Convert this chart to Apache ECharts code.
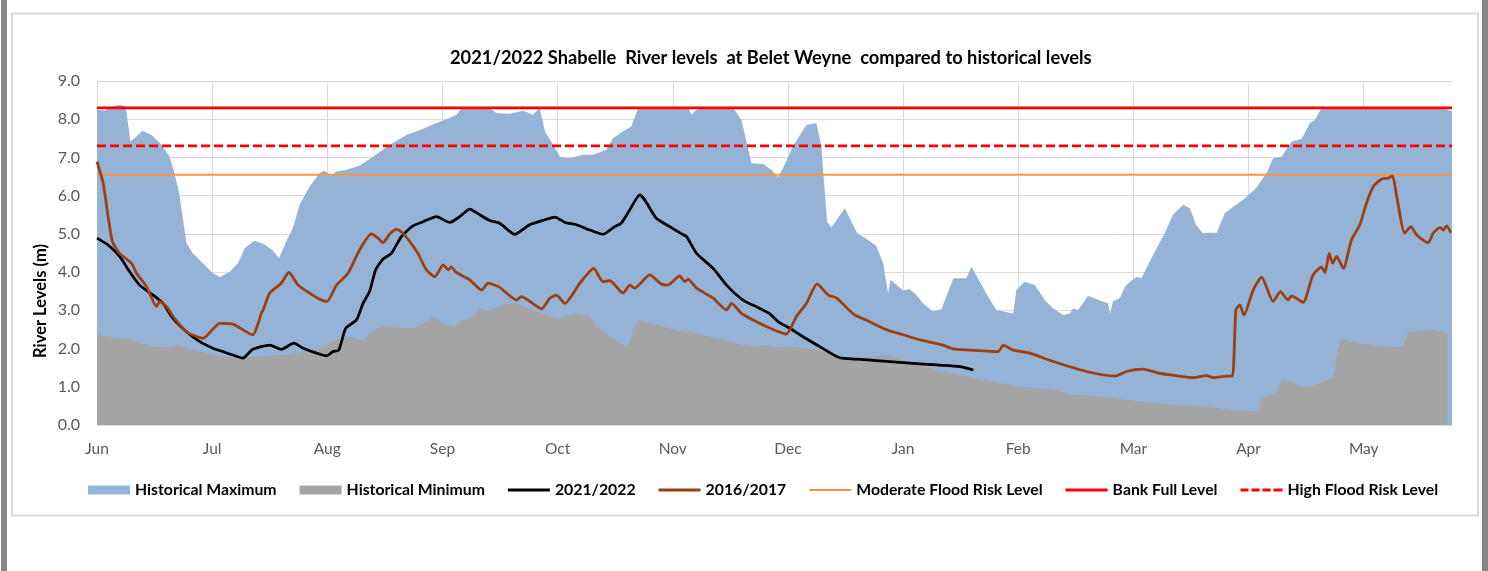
<!DOCTYPE html>
<html>
<head>
<meta charset="utf-8">
<script src="https://cdn.jsdelivr.net/npm/echarts@6/dist/echarts.min.js"></script>
<style>
html,body{margin:0;padding:0;background:#fff;}
#chart{width:1488px;height:571px;}
</style>
</head>
<body>
<div id="chart"></div>
<script>
// ---- data (x = day index from 1 June, y = river level in m) ----
var monthLabels = ['Jun','Jul','Aug','Sep','Oct','Nov','Dec','Jan','Feb','Mar','Apr','May'];
var lastDay = 353;

var histMax = [[0,8.25],[2,8.22],[4,8.33],[6,8.38],[7.5,8.33],[8.7,7.42],[9.8,7.5],[11.8,7.7],[14.2,7.59],[16.8,7.33],[18.9,7.02],[20.2,6.59],[21.4,6.07],[23.3,4.76],[25,4.49],[27.6,4.23],[30.2,3.97],[32,3.87],[34.6,4.01],[36.7,4.23],[38.5,4.63],[41,4.82],[43.3,4.74],[45.7,4.58],[47.4,4.36],[49.3,4.80],[51,5.15],[52.8,5.76],[55.4,6.24],[58,6.59],[59.2,6.65],[61,6.53],[62.4,6.63],[65,6.68],[68.4,6.78],[71.9,7.02],[76.3,7.33],[80.6,7.59],[85,7.75],[88.4,7.9],[91.9,8.03],[93.7,8.12],[95,8.3],[102.3,8.3],[104,8.16],[107.5,8.14],[111,8.22],[113.6,8.12],[115.3,8.3],[116.7,7.68],[118.8,7.33],[120.6,7.02],[123.1,6.98],[126.6,7.07],[129.2,7.07],[132.7,7.2],[134.4,7.5],[137,7.68],[139.2,7.81],[141,8.3],[154,8.3],[154.9,8.12],[156.2,8.25],[158,8.3],[165.7,8.3],[167.9,7.98],[170.5,6.85],[173.5,6.83],[175.7,6.68],[177.4,6.48],[178.7,6.72],[181.3,7.29],[184.8,7.85],[187.4,7.9],[188.7,7.29],[190.2,5.32],[191.3,5.17],[194.8,5.67],[198,5.02],[200.9,4.84],[203,4.69],[204.8,4.23],[206.1,3.45],[206.7,3.80],[208.3,3.66],[210,3.52],[211.7,3.55],[213.5,3.40],[215.2,3.18],[217.8,2.97],[220,3.03],[223.1,3.84],[226.5,3.84],[227.8,4.14],[230,3.75],[232.1,3.36],[234.3,3.01],[238.7,2.92],[239.5,3.53],[241.7,3.75],[244.3,3.66],[246.9,3.27],[249.1,3.05],[251.7,2.88],[253.4,2.91],[254.3,3.05],[255.6,3.01],[258.2,3.38],[262.1,3.23],[263.4,3.18],[263.9,2.92],[264.7,3.23],[266.5,3.32],[267.8,3.62],[269.1,3.75],[270.8,3.87],[272.1,3.84],[275.1,4.45],[278.2,5.02],[280.3,5.50],[283,5.76],[284.7,5.67],[286.3,5.24],[288,5.02],[290.4,5.03],[291.7,5.02],[293.8,5.54],[296,5.71],[298.6,5.89],[302,6.2],[304.7,6.59],[306.4,6.98],[308.6,7.02],[311.2,7.42],[313.8,7.48],[316,7.9],[317.3,7.98],[319,8.3],[350.7,8.3],[352.4,8.22],[353,8.22]];

var histMin = [[0,2.38],[3.3,2.30],[8.5,2.23],[12,2.12],[15.5,2.05],[18.9,2.03],[21.1,2.09],[24.2,1.98],[28.5,1.89],[32.9,1.79],[38,1.76],[42,1.8],[50,1.85],[57,1.95],[60,2.1],[63,2.25],[66,2.31],[69.4,2.21],[71.5,2.44],[74.5,2.59],[78,2.56],[82.3,2.53],[85,2.66],[87.5,2.84],[90.2,2.65],[93.2,2.57],[95,2.75],[97.6,2.79],[99.7,3.05],[101.9,2.97],[105.4,3.14],[108.8,3.2],[112.7,3.05],[116.2,2.91],[120.1,2.77],[121.4,2.84],[124.9,2.91],[128.4,2.85],[130.1,2.57],[132.7,2.40],[136.2,2.14],[138.4,2.05],[139.7,2.49],[141,2.75],[145.8,2.62],[151,2.47],[156.2,2.40],[163.1,2.23],[168.3,2.09],[171.4,2.05],[173.5,2.09],[177,2.03],[180.5,2.05],[188.3,1.96],[192.7,1.79],[200,1.76],[206,1.84],[210,1.7],[215,1.55],[220,1.4],[225,1.3],[230,1.2],[235,1.1],[240.5,1.0],[249,0.92],[253.4,0.81],[262,0.74],[269,0.65],[272.5,0.61],[281,0.52],[290,0.48],[295,0.39],[302.5,0.35],[303.6,0.74],[307.3,0.83],[308.6,1.18],[312.1,1.09],[313.4,1.0],[316.8,1.02],[318.6,1.09],[320.7,1.18],[322,1.26],[323.9,2.27],[326.5,2.18],[333.5,2.07],[340.4,2.05],[341.3,2.42],[347.4,2.49],[351.8,2.40]];

var season2122 = [[0,4.89],[2.9,4.71],[5.9,4.41],[8.5,4.01],[11.1,3.66],[14.6,3.40],[17.2,3.18],[19.8,2.79],[23.3,2.44],[26.8,2.18],[30.2,2.01],[32.8,1.92],[35.4,1.83],[38,1.75],[40.6,1.98],[45,2.09],[48,1.98],[51.3,2.14],[53.7,2.01],[57.2,1.88],[59.8,1.81],[61.5,1.92],[63,1.96],[64.8,2.53],[67.6,2.75],[69.3,3.18],[71,3.49],[72.6,4.06],[74.5,4.34],[76.7,4.49],[79.3,4.93],[82.3,5.21],[85,5.32],[88.4,5.45],[91.9,5.30],[94.5,5.45],[97.1,5.65],[99.7,5.50],[102.3,5.35],[104.9,5.28],[108.8,4.99],[112.7,5.24],[116.7,5.37],[119.3,5.44],[121.9,5.30],[124.9,5.24],[128.4,5.10],[131.8,4.99],[134.9,5.19],[136.6,5.28],[138.8,5.63],[141.4,6.02],[142.7,5.89],[145.7,5.41],[149.2,5.19],[152.3,5.0],[153.6,4.93],[156.2,4.49],[160.5,4.10],[164,3.66],[168.3,3.27],[172.7,3.05],[175.3,2.91],[177.5,2.70],[180.5,2.53],[183.9,2.31],[188.3,2.05],[192.7,1.79],[194,1.75],[201.3,1.70],[210,1.63],[218.7,1.57],[224.8,1.53],[228.3,1.44]];

var season1617 = [[0,6.89],[1.6,6.33],[2.9,5.45],[4,4.80],[5.9,4.49],[9,4.23],[10.3,3.97],[12.9,3.62],[15.5,3.10],[16.3,3.23],[18.1,3.10],[19.8,2.84],[23.3,2.44],[27.6,2.27],[32,2.66],[35.4,2.64],[40.6,2.36],[42,2.66],[42.8,2.92],[43.3,3.01],[45,3.45],[48,3.71],[50,3.99],[52.4,3.66],[55.4,3.45],[58,3.29],[59.9,3.23],[62.4,3.66],[65.4,3.97],[68.4,4.58],[71.5,5.0],[73.2,4.89],[74.5,4.77],[76.3,5.0],[78,5.12],[79.7,5.02],[83.6,4.49],[85.8,4.06],[88,3.88],[90.2,4.19],[91.5,4.06],[92.3,4.14],[93.6,3.99],[97.1,3.80],[100.2,3.53],[101.9,3.71],[104.9,3.60],[109.3,3.27],[110.6,3.36],[115.8,3.04],[118,3.32],[119.7,3.40],[121.9,3.18],[125.8,3.71],[129.4,4.10],[131.8,3.75],[133.6,3.78],[137,3.45],[138.8,3.66],[140.1,3.58],[144,3.93],[147,3.69],[148.7,3.66],[151.8,3.90],[153.1,3.75],[154,3.81],[156.2,3.58],[160.5,3.32],[164,3.01],[165.3,3.18],[167.9,2.92],[171.8,2.70],[176.1,2.50],[179.6,2.38],[182.2,2.84],[184.8,3.18],[187.6,3.69],[190.5,3.40],[192.7,3.32],[197,2.91],[201.3,2.70],[205.7,2.49],[210,2.36],[214.3,2.23],[220.4,2.09],[223,1.99],[227.4,1.96],[234.8,1.92],[236.1,2.09],[238.7,1.96],[243,1.88],[249.1,1.66],[257.8,1.40],[265.2,1.28],[268.2,1.40],[272.5,1.46],[276.9,1.35],[281.2,1.29],[285.6,1.24],[289,1.29],[290.8,1.24],[294.3,1.28],[295.8,1.28],[296.7,3.01],[297.7,3.14],[298.8,2.88],[301.2,3.53],[303.4,3.87],[306.4,3.23],[308.3,3.49],[310.3,3.27],[311.2,3.38],[314.2,3.21],[316.8,3.93],[319,4.13],[319.9,3.99],[321,4.49],[321.9,4.23],[322.9,4.41],[324.7,4.10],[326.8,4.84],[329,5.24],[330.7,5.80],[332.5,6.24],[334.6,6.43],[336.4,6.46],[337.5,6.52],[338.6,5.98],[340.7,5.02],[342.3,5.19],[343.8,4.97],[346.8,4.77],[348.1,5.02],[349.9,5.17],[350.7,5.10],[351.6,5.21],[352.7,5.03]];

var moderateLevel = 6.55;
var bankFullLevel = 8.3;
var highFloodLevel = 7.3;

// ---- chart ----
function flat(v){ return [[0, v], [lastDay, v]]; }
var FONT = 'Lato, "Liberation Sans", sans-serif';
var LINE_ICON = 'path://M0,0H42V3H0Z';
var THIN_ICON = 'path://M0,0H42V2H0Z';
var DASH_ICON = 'path://M0,0h8v3h-8z M11,0h8v3h-8z M22,0h8v3h-8z M33,0h9v3h-9z';
var chart = echarts.init(document.getElementById('chart'), null, {renderer:'canvas'});
chart.setOption({
  animation: false,
  backgroundColor: '#ffffff',
  title: {
    text: '2021/2022 Shabelle  River levels  at Belet Weyne  compared to historical levels',
    left: 445, top: 44,
    textStyle: {fontFamily: FONT, fontWeight: 'bold', fontSize: 18.3, color: '#000'}
  },
  grid: {left: 97, right: 36, top: 81, bottom: 146, containLabel: false},
  legend: {
    left: 83, top: 477, itemWidth: 42, itemHeight: 9, itemGap: 23, symbolKeepAspect: true,
    textStyle: {fontFamily: FONT, fontWeight: 'bold', fontSize: 15.8, color: '#000'},
    data: [
      {name: 'Historical Maximum', icon: 'rect'},
      {name: 'Historical Minimum', icon: 'rect'},
      {name: '2021/2022', icon: LINE_ICON},
      {name: '2016/2017', icon: LINE_ICON},
      {name: 'Moderate Flood Risk Level', icon: THIN_ICON},
      {name: 'Bank Full Level', icon: LINE_ICON},
      {name: 'High Flood Risk Level', icon: DASH_ICON}
    ]
  },
  xAxis: {
    type: 'value', min: 0, max: lastDay, interval: 30,
    axisLine: {show: true, lineStyle: {color: '#D9D9D9', width: 1}},
    axisTick: {show: false},
    splitLine: {show: true, showMinLine: true, showMaxLine: false, lineStyle: {color: '#D9D9D9', width: 1}},
    axisLabel: {
      margin: 16, showMaxLabel: false, color: '#595959', fontFamily: FONT, fontSize: 15.5,
      formatter: function(v){ return (v % 30 === 0 && monthLabels[v/30]) ? monthLabels[v/30] : ''; }
    }
  },
  yAxis: {
    type: 'value', min: 0, max: 9, interval: 1,
    axisLine: {show: true, lineStyle: {color: '#D9D9D9'}},
    axisTick: {show: false},
    splitLine: {show: true, lineStyle: {color: '#D9D9D9', width: 1}},
    axisLabel: {margin: 17, color: '#595959', fontFamily: FONT, fontSize: 16,
      formatter: function(v){ return v.toFixed(1); }}
  },
  graphic: [
    {type: 'rect', shape: {x: 1, y: 0, width: 6, height: 571}, style: {fill: '#878787'}, silent: true},
    {type: 'rect', shape: {x: 1482, y: 0, width: 6, height: 571}, style: {fill: '#878787'}, silent: true},
    {type: 'rect', shape: {x: 12, y: 13.5, width: 1466, height: 502}, style: {fill: null, stroke: '#D9D9D9', lineWidth: 2}, silent: true},
    {type: 'text', x: 41, y: 301, rotation: Math.PI/2, silent: true,
      style: {text: 'River Levels (m)', fontFamily: FONT, fontWeight: 'bold', fontSize: 16.5, fill: '#000', align: 'center', verticalAlign: 'middle'}}
  ],
  series: [
    {name: 'Historical Maximum', type: 'line', data: histMax, symbol: 'none', z: 1,
      itemStyle: {color: '#95B3D7'}, lineStyle: {width: 0, color: '#95B3D7'}, areaStyle: {color: '#95B3D7', opacity: 1}},
    {name: 'Historical Minimum', type: 'line', data: histMin, symbol: 'none', z: 2,
      itemStyle: {color: '#A5A5A5'}, lineStyle: {width: 0, color: '#A5A5A5'}, areaStyle: {color: '#A5A5A5', opacity: 1}},
    {name: '2021/2022', type: 'line', data: season2122, symbol: 'none', z: 5, smooth: 0.2,
      itemStyle: {color: '#000000'}, lineStyle: {width: 2.75, color: '#000000', join: 'round'}},
    {name: '2016/2017', type: 'line', data: season1617, symbol: 'none', z: 5, smooth: 0.2,
      itemStyle: {color: '#9E3D0D'}, lineStyle: {width: 2.75, color: '#9E3D0D', join: 'round'}},
    {name: 'Moderate Flood Risk Level', type: 'line', data: flat(moderateLevel), symbol: 'none', z: 4,
      itemStyle: {color: '#F79646'}, lineStyle: {width: 2, color: '#F79646'}},
    {name: 'Bank Full Level', type: 'line', data: flat(bankFullLevel), symbol: 'none', z: 4,
      itemStyle: {color: '#FF0000'}, lineStyle: {width: 2.75, color: '#FF0000'}},
    {name: 'High Flood Risk Level', type: 'line', data: flat(highFloodLevel), symbol: 'none', z: 4,
      itemStyle: {color: '#FF0000'}, lineStyle: {width: 2.75, color: '#FF0000', type: [9, 4]}}
  ]
});
</script>
</body>
</html>
